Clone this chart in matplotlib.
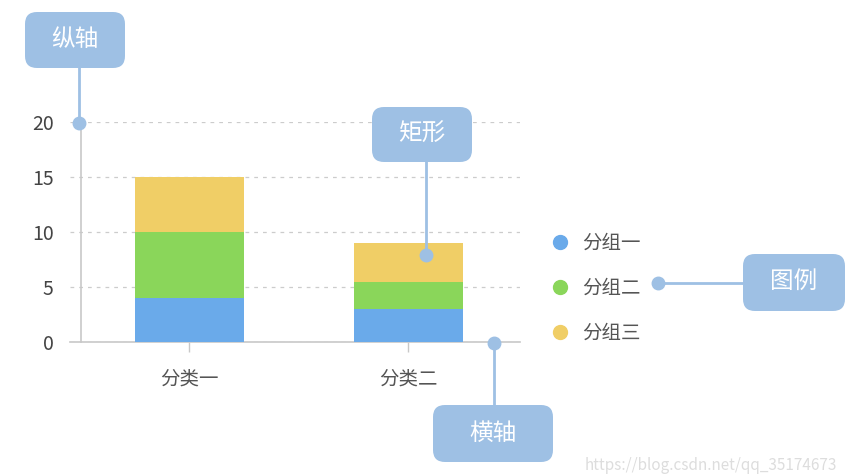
import matplotlib.pyplot as plt
from matplotlib.lines import Line2D
from matplotlib.patches import FancyBboxPatch

plt.rcParams['font.family'] = ['Noto Sans CJK SC', 'DejaVu Sans']

# 数据
categories = ['分类一', '分类二']
groups = ['分组一', '分组二', '分组三']
group1 = [4, 3]
group2 = [6, 2.5]
group3 = [5, 3.5]
yticks = [0, 5, 10, 15, 20]

colors = ['#6aaaea', '#8ad65a', '#f0ce66']
box_color = '#9ec0e4'
text_grey = '#555555'

fig = plt.figure(figsize=(8.62, 4.76), dpi=100)
ax = fig.add_axes([70 / 862, 1 - 342 / 476, 450 / 862, 220 / 476])

x = list(range(len(categories)))
bottom2 = [a for a in group1]
bottom3 = [a + b for a, b in zip(group1, group2)]
ax.bar(x, group1, width=0.5, color=colors[0], label=groups[0], zorder=3)
ax.bar(x, group2, width=0.5, bottom=bottom2, color=colors[1], label=groups[1], zorder=3)
ax.bar(x, group3, width=0.5, bottom=bottom3, color=colors[2], label=groups[2], zorder=3)

ax.set_xlim(-0.545, 1.51)
ax.set_ylim(0, 20)
ax.set_yticks(yticks)
ax.set_yticklabels([str(v) for v in yticks])
ax.set_xticks(x)
ax.set_xticklabels(categories)

for s in ['top', 'right']:
    ax.spines[s].set_visible(False)
ax.spines['left'].set_position(('data', -0.493))
ax.spines['left'].set_color('#c8c8c8')
ax.spines['left'].set_linewidth(1.2)
ax.spines['bottom'].set_color('#c8c8c8')
ax.spines['bottom'].set_linewidth(1.2)
ax.grid(axis='y', linestyle=(0, (3, 4)), color='#cccccc', linewidth=0.9, zorder=0)
ax.set_axisbelow(True)
ax.tick_params(axis='y', length=0, pad=20, labelsize=14, labelcolor='#444444')
ax.tick_params(axis='x', length=7, width=1, color='#c8c8c8', pad=12,
               labelsize=14, labelcolor=text_grey)

# 图例
handles = [Line2D([], [], marker='o', linestyle='none', markersize=10,
                  markerfacecolor=c, markeredgecolor=c) for c in colors]
fig.legend(handles, groups, loc='upper left',
           bbox_to_anchor=(535 / 862, 1 - 215 / 476), frameon=False,
           fontsize=14, labelspacing=1.25, handlelength=0.8, handletextpad=0.7,
           labelcolor=text_grey)

# 注释层
ov = fig.add_axes([0, 0, 1, 1], facecolor='none')
ov.set_xlim(0, 862)
ov.set_ylim(476, 0)
ov.axis('off')


def callout(text, box, line, dot):
    bx, by, bw, bh = box
    ov.add_patch(FancyBboxPatch((bx + 12, by + 12), bw - 24, bh - 24,
                                boxstyle='round,pad=12', facecolor=box_color,
                                edgecolor='none', zorder=5))
    ov.text(bx + bw / 2, by + bh / 2, text, color='white', fontsize=17,
            fontweight='medium', ha='center', va='center', zorder=6)
    ov.plot([line[0], dot[0]], [line[1], dot[1]], color=box_color, lw=2, zorder=4)
    ov.plot(dot[0], dot[1], 'o', color=box_color, markersize=9, zorder=6)


callout('纵轴', (25, 12, 100, 56), (79, 68), (79, 123))
callout('矩形', (372, 107, 100, 55), (426, 162), (426, 255))
callout('图例', (743, 254, 102, 57), (743, 283), (658, 283))
callout('横轴', (433, 405, 120, 57), (494, 405), (494, 343))

ov.text(585, 474, 'https://blog.csdn.net/qq_35174673', color='#dddddd',
        fontsize=11, ha='left', va='bottom', zorder=2)

fig.savefig('out.png', dpi=100)
